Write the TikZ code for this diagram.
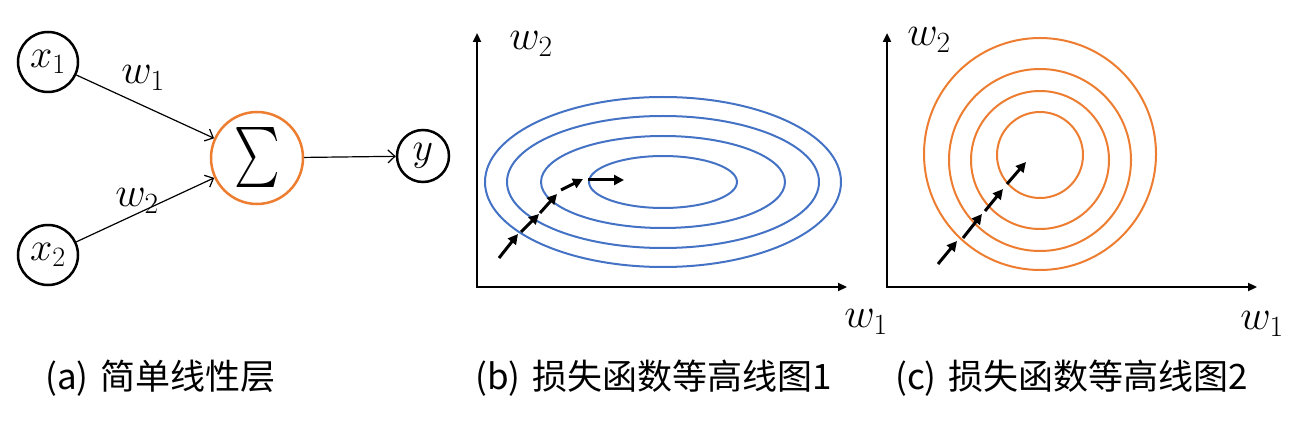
\RequirePackage{fix-cm}
\documentclass[tikz,border=0pt]{standalone}
\usepackage{amsmath, amssymb}
\usepackage{fontspec}
\usetikzlibrary{arrows.meta}
\newfontfamily\cjk{Noto Sans CJK SC}
\definecolor{bl}{RGB}{68,114,196}
\definecolor{og}{RGB}{237,125,49}

\begin{document}
\begin{tikzpicture}
  [x=1pt, y=-1pt, auto=center,
   var/.style={circle,draw,line width=2.5pt,inner sep=0pt,minimum size=60pt,
     font=\fontsize{40}{46}\selectfont},
   lab/.style={inner sep=0pt,font=\fontsize{42}{48}\selectfont},
   conn/.style={line width=1.2pt,-{Straight Barb[length=7pt,width=13pt]}},
   axis/.style={line width=2.2pt,
     {Triangle[length=9pt,width=8pt]}-{Triangle[length=9pt,width=8pt]}},
   gd/.style={line width=3pt,-{Triangle[length=10pt,width=10pt]}},
   capt/.style={anchor=west,inner sep=0pt,font=\cjk\fontsize{35}{40}\selectfont}]
  \useasboundingbox (0,0) rectangle (1306,438);
    \node[var] (x1) at (48,62) {$x_1$};
    \node[var] (x2) at (48,255) {$x_2$};
    \node[var,draw=og,minimum size=92pt,font=\fontsize{60}{66}\selectfont]
      (sum) at (257,158) {\scalebox{.72}[1]{$\sum$}};
    \node[var,minimum size=52pt] (y) at (423,156) {$y$};
    \node[lab] (lw1) at (143,78) {$w_1$};
    \node[lab] (lw2) at (137,201) {$w_2$};
    \foreach \from/\to in {x1/sum,x2/sum,sum/y}{
      \draw[conn] (\from) -- (\to);}
    \coordinate (ob) at (477,287);
    \coordinate (bx) at (847,287);
    \coordinate (by) at (477,33);
    \draw[axis] (by) -- (ob) -- (bx);
    \node[lab] (bw2) at (531,44) {$w_2$};
    \node[lab] (bw1) at (866,322) {$w_1$};
    \foreach \a/\b in {178/85,156/66,122/46,74/26}{
      \draw[bl,line width=2pt] (663,182) ellipse[x radius=\a,y radius=\b];}
    \foreach \i/\x/\y in {0/499/258,1/518/234,2/521/232,3/539/214,4/540/213,
                  5/557/194,6/561/190,7/583/179,8/588/180,9/624/180}{
      \coordinate (b\i) at (\x,\y);}
    \foreach \from/\to in {b0/b1,b2/b3,b4/b5,b6/b7,b8/b9}{
      \draw[gd] (\from) -- (\to);}
    \coordinate (oc) at (887,287);
    \coordinate (cx) at (1257,287);
    \coordinate (cy) at (887,33);
    \draw[axis] (cy) -- (oc) -- (cx);
    \node[lab] (cw2) at (929,40) {$w_2$};
    \node[lab] (cw1) at (1262,324) {$w_1$};
    \foreach \r/\y in {116/154,91/160,69/160,43/155}{
      \draw[og,line width=2pt] (1040,\y) circle[radius=\r];}
    \foreach \i/\x/\y in {0/938/264,1/957/241,2/963/238,3/982/214,
                  4/985/211,5/1003/189,6/1007/184,7/1026/162}{
      \coordinate (c\i) at (\x,\y);}
    \foreach \from/\to in {c0/c1,c2/c3,c4/c5,c6/c7}{
      \draw[gd] (\from) -- (\to);}
    \node[capt] (ca) at (45,378) {(a)\hspace{0.35em}简单线性层};
    \node[capt] (cb) at (475,378) {(b)\hspace{0.35em}损失函数等高线图1};
    \node[capt] (cc) at (895,378) {(c)\hspace{0.35em}损失函数等高线图2};
  \end{tikzpicture}
\end{document}
